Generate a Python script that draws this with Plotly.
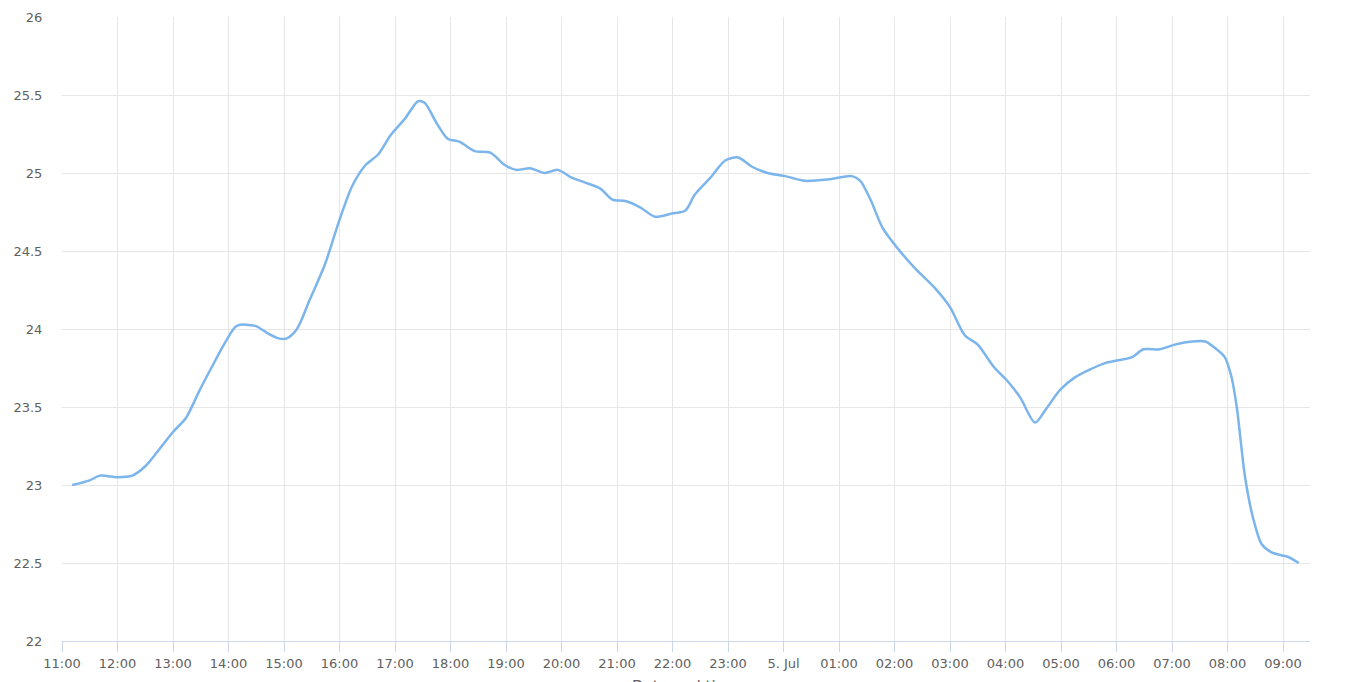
import plotly.graph_objects as go
from datetime import datetime, timedelta

# Data: time (HH:MM, 4-5 Jul) and temperature values
times = ["11:11", "11:30", "11:41", "12:00", "12:16", "12:30", "12:44", "13:00", "13:14", "13:29",
         "13:45", "13:56", "14:09", "14:29", "14:43", "14:54", "15:03", "15:14", "15:28", "15:44",
         "16:00", "16:14", "16:28", "16:42", "16:55", "17:11", "17:25", "17:32", "17:45", "17:57",
         "18:10", "18:26", "18:43", "18:59", "19:11", "19:26", "19:42", "19:56", "20:11", "20:25",
         "20:42", "20:55", "21:09", "21:25", "21:41", "21:59", "22:14", "22:24", "22:41", "22:57",
         "23:11", "23:26", "23:43", "00:02", "00:23", "00:50", "01:14", "01:23", "01:34", "01:47",
         "02:03", "02:22", "02:44", "03:00", "03:16", "03:30", "03:47", "04:03", "04:16", "04:32",
         "04:43", "04:59", "05:15", "05:31", "05:47", "06:02", "06:17", "06:29", "06:47", "07:03",
         "07:22", "07:36", "07:46", "07:57", "08:04", "08:10", "08:19", "08:28", "08:37", "08:47",
         "08:58", "09:05", "09:17"]
values = [23.00, 23.03, 23.06, 23.05, 23.06, 23.12, 23.22, 23.34, 23.43, 23.61,
          23.79, 23.91, 24.02, 24.02, 23.97, 23.94, 23.94, 24.00, 24.19, 24.41,
          24.70, 24.92, 25.05, 25.12, 25.24, 25.35, 25.46, 25.45, 25.32, 25.22,
          25.20, 25.14, 25.13, 25.05, 25.02, 25.03, 25.00, 25.02, 24.97, 24.94,
          24.90, 24.83, 24.82, 24.78, 24.72, 24.74, 24.76, 24.86, 24.97, 25.08,
          25.10, 25.04, 25.00, 24.98, 24.95, 24.96, 24.98, 24.95, 24.83, 24.65,
          24.52, 24.39, 24.26, 24.14, 23.96, 23.90, 23.76, 23.66, 23.56, 23.40,
          23.48, 23.61, 23.69, 23.74, 23.78, 23.80, 23.82, 23.87, 23.87, 23.90,
          23.92, 23.92, 23.88, 23.82, 23.70, 23.50, 23.05, 22.78, 22.62, 22.57,
          22.55, 22.54, 22.50]

tick_labels = ["11:00", "12:00", "13:00", "14:00", "15:00", "16:00", "17:00", "18:00", "19:00",
               "20:00", "21:00", "22:00", "23:00", "5. Jul", "01:00", "02:00", "03:00", "04:00",
               "05:00", "06:00", "07:00", "08:00", "09:00"]

base = datetime(2023, 7, 4)
xs = []
for t in times:
    h, m = map(int, t.split(":"))
    d = base + timedelta(hours=h, minutes=m)
    if h < 11:
        d += timedelta(days=1)
    xs.append(d)

tick_vals = [base + timedelta(hours=11 + i) for i in range(len(tick_labels))]

fig = go.Figure()
fig.add_trace(go.Scatter(x=xs, y=values, mode="lines",
                         line=dict(color="#7cb5ec", width=2.5, shape="spline", smoothing=0.8),
                         hoverinfo="x+y", showlegend=False))

# page body has an 8px default margin; figure sized so the plot area lands where the reference has it
fig.update_layout(
    width=1348, height=674,
    margin=dict(l=54, r=46, t=9, b=41),
    paper_bgcolor="white", plot_bgcolor="white",
    font=dict(family="DejaVu Sans", size=13, color="#606060"),
    xaxis=dict(
        range=[base + timedelta(hours=11), base + timedelta(hours=11 + 1248 / 55.5)],
        tickmode="array", tickvals=tick_vals, ticktext=tick_labels,
        showgrid=True, gridcolor="#e6e6e6", gridwidth=1,
        showline=True, linecolor="#ccd6eb", linewidth=1,
        ticks="outside", ticklen=10, tickcolor="#ccd6eb",
        tickfont=dict(size=13, color="#606060"),
        zeroline=False, fixedrange=True, automargin=False,
    ),
    yaxis=dict(
        range=[22, 26], tickmode="array",
        tickvals=[22, 22.5, 23, 23.5, 24, 24.5, 25, 25.5, 26],
        ticktext=["22", "22.5", "23", "23.5", "24", "24.5", "25", "25.5", "26"],
        showgrid=True, gridcolor="#e6e6e6", gridwidth=1,
        showline=False, zeroline=False,
        ticks="outside", ticklen=16, tickcolor="rgba(0,0,0,0)",
        tickfont=dict(size=13, color="#606060"), fixedrange=True, automargin=False,
    ),
    annotations=[dict(text="Date and time", xref="paper", yref="paper",
                      x=0.5, y=-(668 - 633) / 624, xanchor="center", yanchor="top",
                      showarrow=False, font=dict(size=15, color="#606060"))],
)

fig.write_html("out.html")
